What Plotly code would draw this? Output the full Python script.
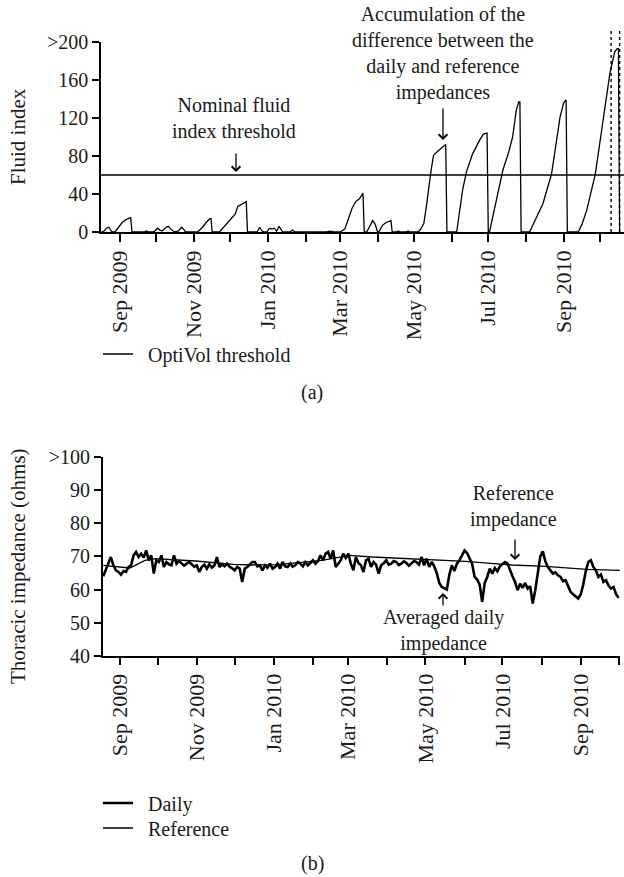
import pandas as pd
import plotly.graph_objects as go

FONT = "Liberation Serif"
INK = "#1a1a1a"
W, H = 624, 877

# ---------------- (a) OptiVol fluid index ----------------
fluid_dates = [
    "2009-08-17", "2009-08-19", "2009-08-21", "2009-08-23", "2009-08-25", "2009-08-26", "2009-08-28",
    "2009-08-31", "2009-09-03", "2009-09-06", "2009-09-09", "2009-09-10", "2009-09-11",
    "2009-09-21", "2009-09-23", "2009-09-25", "2009-09-29", "2009-10-02", "2009-10-04", "2009-10-06",
    "2009-10-09", "2009-10-11", "2009-10-13", "2009-10-16", "2009-10-19", "2009-10-22", "2009-10-24",
    "2009-10-25", "2009-11-04", "2009-11-08", "2009-11-11", "2009-11-14", "2009-11-15", "2009-11-16",
    "2009-11-22", "2009-11-26", "2009-12-01", "2009-12-05", "2009-12-07", "2009-12-10", "2009-12-14",
    "2009-12-15", "2009-12-23", "2009-12-25", "2009-12-27", "2009-12-29", "2009-12-31",
    "2010-01-02", "2010-01-04", "2010-01-06", "2010-01-08", "2010-01-10", "2010-01-12", "2010-01-13",
    "2010-01-19", "2010-01-21", "2010-01-23", "2010-02-18", "2010-02-21", "2010-02-24",
    "2010-03-01", "2010-03-05", "2010-03-08", "2010-03-11", "2010-03-14", "2010-03-17", "2010-03-20",
    "2010-03-21", "2010-03-23", "2010-03-26", "2010-03-28", "2010-03-30", "2010-04-01", "2010-04-02",
    "2010-04-05", "2010-04-08", "2010-04-11", "2010-04-12", "2010-04-13", "2010-04-16", "2010-04-18",
    "2010-04-20", "2010-04-24", "2010-04-26", "2010-04-28", "2010-05-04", "2010-05-06", "2010-05-09",
    "2010-05-11", "2010-05-13", "2010-05-15", "2010-05-17", "2010-05-20", "2010-05-23", "2010-05-27",
    "2010-05-28", "2010-06-05", "2010-06-08", "2010-06-10", "2010-06-13", "2010-06-18", "2010-06-24",
    "2010-06-27", "2010-06-30", "2010-07-01", "2010-07-02", "2010-07-06", "2010-07-13", "2010-07-18",
    "2010-07-21", "2010-07-24", "2010-07-26", "2010-07-27", "2010-07-28", "2010-08-04", "2010-08-09",
    "2010-08-15", "2010-08-22", "2010-08-26", "2010-08-29", "2010-09-01", "2010-09-03", "2010-09-04",
    "2010-09-13", "2010-09-16", "2010-09-20", "2010-09-27", "2010-10-03", "2010-10-09", "2010-10-13",
    "2010-10-15", "2010-10-16", "2010-10-17",
]
fluid_index = [
    0, 1, 4, 5, 1, 0, 0,
    5, 10, 13, 15, 15, 0,
    0, 1, 0, 0, 4, 2, 1,
    5, 6, 3, 0, 1, 5, 2,
    0, 0, 5, 10, 14, 14, 0,
    0, 6, 14, 19, 27, 29, 32,
    0, 0, 5, 1, 0, 0,
    4, 3, 4, 1, 6, 2, 0,
    0, 2, 0, 0, 1, 0,
    0, 3, 14, 25, 32, 35, 41,
    0, 0, 8, 12, 8, 0, 0,
    7, 10, 12, 12, 0, 0, 1,
    0, 0, 1, 0, 0, 2, 9,
    26, 48, 65, 81, 85, 88, 92,
    0, 0, 25, 45, 63, 82, 97,
    103, 104, 0, 0, 23, 65, 85,
    100, 128, 137, 137, 0, 0, 13,
    30, 61, 95, 121, 136, 139, 0,
    0, 8, 23, 61, 114, 167, 190,
    193, 193, 0,
]
threshold_value = 60
threshold_span = ["2009-08-16 13:00", "2010-10-20 14:00"]
alert_dates = ["2010-10-10", "2010-10-17"]

month_ticks = [
    "2009-09-01", "2009-10-01", "2009-11-01", "2009-12-01", "2010-01-01", "2010-02-01", "2010-03-01",
    "2010-04-01", "2010-05-01", "2010-06-01", "2010-07-01", "2010-08-01", "2010-09-01", "2010-10-01",
]
month_tick_text = [
    "Sep 2009", "", "Nov 2009", "", "Jan 2010", "", "Mar 2010",
    "", "May 2010", "", "Jul 2010", "", "Sep 2010", "",
]
fluid_ticks = [0, 40, 80, 120, 160, 200]
fluid_tick_text = ["0", "40", "80", "120", "160", ">200"]

# ---------------- (b) Thoracic impedance ----------------
DAILY_START = "2009-08-19"   # one reading every second day
daily_ohms = [
    64.0, 66.0, 67.8, 69.8, 67.3, 65.8, 65.3, 64.5, 65.6, 65.3,
    66.8, 67.3, 70.3, 71.3, 69.8, 70.8, 69.6, 71.8, 68.8, 70.3,
    64.8, 68.8, 68.3, 70.3, 66.8, 68.3, 67.6, 67.3, 70.3, 67.8,
    68.6, 68.0, 67.2, 67.8, 68.3, 67.6, 66.9, 67.3, 65.3, 66.8,
    67.5, 66.3, 67.6, 66.6, 67.3, 69.8, 66.8, 67.6, 67.0, 67.8,
    66.9, 66.4, 65.8, 66.8, 66.3, 62.3, 66.3, 66.8, 67.6, 68.3,
    68.3, 67.0, 67.3, 65.8, 67.3, 66.6, 67.8, 66.3, 66.8, 67.8,
    66.3, 68.3, 67.0, 66.8, 67.8, 66.9, 67.3, 68.3, 67.8, 67.0,
    68.3, 67.3, 68.0, 68.8, 67.8, 68.6, 70.3, 68.8, 70.8, 71.3,
    69.3, 71.8, 66.8, 68.0, 68.8, 70.8, 69.5, 70.8, 67.8, 65.8,
    69.8, 68.0, 67.3, 65.3, 68.8, 69.3, 66.8, 68.3, 67.5, 64.8,
    67.3, 67.9, 68.8, 67.5, 67.8, 68.6, 68.3, 67.4, 67.8, 68.5,
    68.0, 67.2, 67.8, 68.6, 68.3, 67.5, 69.8, 67.3, 69.3, 66.8,
    68.3, 67.0, 65.0, 62.0, 60.8, 60.3, 60.0, 64.5, 67.3, 65.6,
    67.8, 68.8, 70.5, 71.8, 71.0, 69.5, 67.8, 63.8, 63.0, 61.5,
    56.3, 62.0, 63.8, 66.3, 64.8, 66.5, 65.5, 67.0, 67.8, 68.3,
    67.9, 65.8, 64.0, 62.3, 59.8, 61.8, 60.5, 62.0, 60.3, 61.0,
    55.8, 59.8, 64.8, 70.0, 71.5, 68.5, 66.8, 65.8, 64.8, 65.2,
    64.3, 63.8, 62.5, 62.8, 60.8, 59.3, 58.6, 58.0, 57.3, 58.5,
    61.5, 65.5, 68.3, 68.8, 66.8, 65.8, 63.8, 64.5, 62.3, 62.8,
    61.2, 60.3, 60.8, 58.6, 57.5,
]
daily_dates = pd.date_range(start=DAILY_START, periods=len(daily_ohms), freq="2D")

ref_dates = [
    "2009-08-19", "2009-08-27", "2009-09-09", "2009-09-21", "2009-09-29", "2009-10-31", "2009-11-30",
    "2009-12-15", "2010-01-04", "2010-02-08", "2010-03-02", "2010-03-20", "2010-04-19", "2010-05-14",
    "2010-06-02", "2010-07-09", "2010-08-04", "2010-09-06", "2010-10-02",
]
ref_ohms = [
    67.3, 67.0, 66.5, 68.8, 69.3, 68.6, 67.6,
    67.4, 67.5, 68.8, 70.3, 69.8, 69.3, 68.9,
    68.5, 67.4, 67.0, 66.1, 65.8,
]
ohm_ticks = [40, 50, 60, 70, 80, 90, 100]
ohm_tick_text = ["40", "50", "60", "70", "80", "90", ">100"]


def px_x(p):
    return p / W


def px_y(p):
    return 1 - p / H


fig = go.Figure()
fig.add_trace(go.Scatter(x=fluid_dates, y=fluid_index, mode="lines", showlegend=False,
                         line=dict(color="black", width=1.3), xaxis="x", yaxis="y"))
fig.add_trace(go.Scatter(x=threshold_span, y=[threshold_value] * len(threshold_span), mode="lines",
                         name="\u00a0\u00a0OptiVol threshold", line=dict(color="black", width=1.3),
                         xaxis="x", yaxis="y", legend="legend"))
fig.add_trace(go.Scatter(x=daily_dates, y=daily_ohms, mode="lines", name="\u00a0\u00a0Daily",
                         line=dict(color="black", width=2.6), xaxis="x2", yaxis="y2", legend="legend2"))
fig.add_trace(go.Scatter(x=ref_dates, y=ref_ohms, mode="lines", name="\u00a0\u00a0Reference",
                         line=dict(color="black", width=1.3), xaxis="x2", yaxis="y2", legend="legend3"))

ytickfont = dict(family=FONT, size=20, color=INK)
xtickfont = dict(family=FONT, size=22, color=INK)
common_axis = dict(showline=True, linecolor="black", showgrid=False, zeroline=False,
                   ticks="outside", tickcolor="black", automargin=False)

for d in alert_dates:
    fig.add_shape(type="line", xref="x", yref="paper", x0=d, x1=d, y0=px_y(232), y1=px_y(30),
                  line=dict(color="black", width=1.4, dash="dot"))

annotations = []


def text(t, x, y, size=20, angle=0):
    annotations.append(dict(text=t, x=px_x(x), y=px_y(y), xref="paper", yref="paper",
                            showarrow=False, xanchor="center", yanchor="middle", textangle=angle,
                            font=dict(family=FONT, size=size, color=INK)))


def arrow(x, y_head, y_tail):
    annotations.append(dict(text="", x=px_x(x), y=px_y(y_head), xref="paper", yref="paper",
                            ax=0, ay=y_tail - y_head, showarrow=True, arrowhead=4, arrowsize=1.3,
                            arrowwidth=1.3, arrowcolor="black", standoff=0, startstandoff=0))


text("Fluid index", 18, 137, 21, -90)
text("Thoracic impedance (ohms)", 18, 566, 21, -90)
text("Nominal fluid<br>index threshold", 234, 117.5)
arrow(236, 172, 152)
text("Accumulation of the<br>difference between the<br>daily and reference<br>impedances", 443, 53)
arrow(443, 140, 107)
text("Reference<br>impedance", 513, 506.5)
arrow(515, 560, 538)
text("Averaged daily<br>impedance", 443, 630)
arrow(443, 593, 607)
text("(a)", 312, 392)
text("(b)", 312, 863)

legend_style = dict(xanchor="left", yanchor="middle", bgcolor="rgba(0,0,0,0)",
                    font=dict(family=FONT, size=20, color=INK))

fig.update_layout(
    width=W, height=H, autosize=False,
    margin=dict(l=0, r=0, t=0, b=0, autoexpand=False),
    paper_bgcolor="white", plot_bgcolor="white",
    font=dict(family=FONT, color=INK),
    xaxis=dict(domain=[px_x(101), 1.0], anchor="y", type="date",
               range=["2009-08-16 13:26", "2010-10-20 14:24"],
               tickmode="array", tickvals=month_ticks, ticktext=month_tick_text, tickangle=-90,
               ticklen=8, tickwidth=1.5, linewidth=1.5, tickfont=xtickfont, **common_axis),
    yaxis=dict(domain=[px_y(232), px_y(42)], anchor="x", range=[0, 200],
               tickmode="array", tickvals=fluid_ticks, ticktext=fluid_tick_text,
               ticklen=7, tickwidth=1.5, linewidth=1.5, tickfont=ytickfont, **common_axis),
    xaxis2=dict(domain=[px_x(103), px_x(620)], anchor="y2", type="date",
                range=["2009-08-18 19:00", "2010-10-02 02:24"],
                tickmode="array", tickvals=month_ticks, ticktext=month_tick_text, tickangle=-90,
                ticklen=7, tickwidth=2, linewidth=2, tickfont=xtickfont, **common_axis),
    yaxis2=dict(domain=[px_y(656), px_y(456.7)], anchor="x2", range=[40, 100],
                tickmode="array", tickvals=ohm_ticks, ticktext=ohm_tick_text,
                ticklen=7, tickwidth=2, linewidth=2, tickfont=ytickfont, **common_axis),
    legend=dict(x=px_x(98), y=px_y(354), **legend_style),
    legend2=dict(x=px_x(98), y=px_y(803), **legend_style),
    legend3=dict(x=px_x(98), y=px_y(828), **legend_style),
    annotations=annotations,
)

fig.write_html(
    "out.html",
    config={"displayModeBar": False},
    post_script="document.body.style.margin='0';document.body.style.overflow='hidden';",
)
